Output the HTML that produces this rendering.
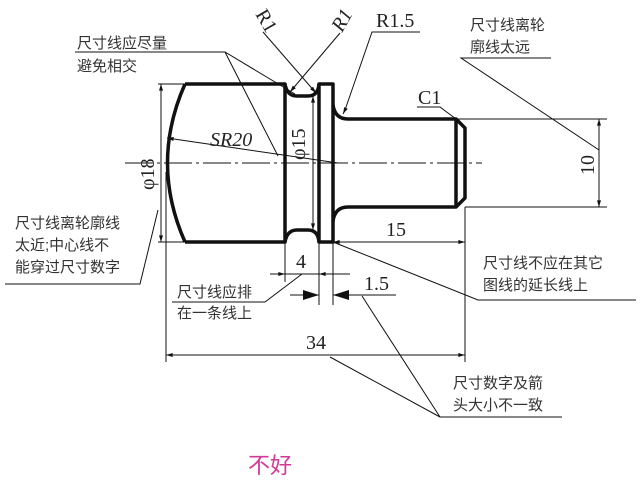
<!DOCTYPE html>
<html><head><meta charset="utf-8"><style>
html,body{margin:0;padding:0;background:#fff;}
svg{display:block;}
text{font-family:"Liberation Serif","Noto Serif CJK SC",serif;fill:#222;}
.cn{font-family:"Liberation Sans","Noto Sans CJK SC",sans-serif;font-size:15px;fill:#333;}
</style></head><body>
<svg width="642" height="489" viewBox="0 0 642 489" xmlns="http://www.w3.org/2000/svg">
<defs>
<marker id="a" viewBox="0 0 10 6" refX="10" refY="3" markerWidth="10" markerHeight="4" markerUnits="userSpaceOnUse" orient="auto"><path d="M0,0 L10,3 L0,6z" fill="#111"/></marker>
<marker id="b" viewBox="0 0 16 10" refX="16" refY="5" markerWidth="16" markerHeight="10" markerUnits="userSpaceOnUse" orient="auto"><path d="M0,0 L16,5 L0,10z" fill="#111"/></marker>
</defs>
<g fill="none" stroke="#111" stroke-width="3.5" stroke-linejoin="round">
<path d="M185,84 L285,84 L285,242 L185,242"/>
<path d="M185,84 Q150,163 185,242"/>
<path d="M285,84 Q287,96 297,96 L308,96 Q318,96 319,84"/>
<path d="M285,242 Q287,230 297,230 L308,230 Q318,230 319,242"/>
<rect x="319" y="84" width="14" height="158"/>
<path d="M333,105 Q335,119 348,119 L456,119 L465,128 L465,198 L456,207 L348,207 Q335,207 333,221"/>
<line x1="456" y1="119" x2="456" y2="207"/>
</g>
<g fill="none" stroke="#111" stroke-width="1">
<line x1="125" y1="163" x2="482" y2="163" stroke-dasharray="28,4,3,4"/>
<line x1="158" y1="84" x2="185" y2="84"/><line x1="158" y1="242" x2="185" y2="242"/>
<line x1="161" y1="120" x2="161" y2="84" marker-end="url(#a)"/>
<line x1="161" y1="205" x2="161" y2="242" marker-end="url(#a)"/>
<line x1="161" y1="120" x2="161" y2="205"/>
<line x1="313" y1="163" x2="313" y2="96" marker-end="url(#a)"/>
<line x1="313" y1="163" x2="313" y2="230" marker-end="url(#a)"/>
<line x1="338" y1="163" x2="167" y2="138" marker-end="url(#a)"/>
<line x1="400" y1="242" x2="333" y2="242" marker-end="url(#a)"/>
<line x1="400" y1="242" x2="465" y2="242" marker-end="url(#a)"/>
<line x1="465" y1="207" x2="465" y2="362"/>
<line x1="457" y1="119" x2="607" y2="119"/><line x1="465" y1="207" x2="607" y2="207"/>
<line x1="599" y1="163" x2="599" y2="119" marker-end="url(#a)"/>
<line x1="599" y1="163" x2="599" y2="207" marker-end="url(#a)"/>
<line x1="285" y1="242" x2="285" y2="282"/>
<line x1="319" y1="242" x2="319" y2="305"/><line x1="333" y1="242" x2="333" y2="305"/>
<line x1="270" y1="274" x2="285" y2="274" marker-end="url(#a)"/>
<line x1="350" y1="274" x2="319" y2="274" marker-end="url(#a)"/>
<line x1="285" y1="274" x2="319" y2="274"/>
<line x1="290" y1="295" x2="319" y2="295" marker-end="url(#b)"/>
<line x1="396" y1="295" x2="333" y2="295" marker-end="url(#b)"/>
<line x1="166" y1="172" x2="166" y2="362"/>
<line x1="316" y1="355" x2="166" y2="355" marker-end="url(#a)"/>
<line x1="316" y1="355" x2="465" y2="355" marker-end="url(#a)"/>
<polyline points="75,52 225,52 295,94"/>
<line x1="225" y1="52" x2="278" y2="156"/>
<line x1="263" y1="32" x2="316" y2="93" marker-end="url(#a)"/>
<line x1="340" y1="33" x2="290" y2="92" marker-end="url(#a)"/>
<polyline points="420,32 372,32 345,110"/>
<line x1="345" y1="110" x2="343" y2="114" marker-end="url(#a)"/>
<polyline points="417,107 440,107 456,119"/>
<polyline points="551,58 461,58 599,150"/>
<polyline points="5,284 140,284 158,210"/>
<polyline points="636,300 478,300 333,242"/>
<polyline points="172,302 265,302 302,274"/>
<polyline points="562,417 440,417 362,296"/>
<line x1="440" y1="417" x2="330" y2="357"/>
</g>
<g font-size="20">
<text x="255" y="14" transform="rotate(60 255 14)">R1</text>
<text x="342" y="33" transform="rotate(-60 342 33)" font-style="italic">R1</text>
<text x="376" y="27">R1.5</text>
<text x="418" y="104">C1</text>
<text x="210" y="146" font-style="italic">SR20</text>
<text x="0" y="0" transform="translate(305,160) rotate(-90)">φ15</text>
<text x="0" y="0" transform="translate(154,190) rotate(-90)">φ18</text>
<text x="0" y="0" transform="translate(594,175) rotate(-90)">10</text>
<text x="386" y="236">15</text>
<text x="296" y="268">4</text>
<text x="364" y="290">1.5</text>
<text x="306" y="349">34</text>
</g>
<g>
<text class="cn" x="77" y="48">尺寸线应尽量</text>
<text class="cn" x="77" y="71">避免相交</text>
<text class="cn" x="470" y="30">尺寸线离轮</text>
<text class="cn" x="470" y="52">廓线太远</text>
<text class="cn" x="15" y="228">尺寸线离轮廓线</text>
<text class="cn" x="15" y="250">太近;中心线不</text>
<text class="cn" x="15" y="272">能穿过尺寸数字</text>
<text class="cn" x="483" y="268">尺寸线不应在其它</text>
<text class="cn" x="483" y="290">图线的延长线上</text>
<text class="cn" x="177" y="297">尺寸线应排</text>
<text class="cn" x="177" y="318">在一条线上</text>
<text class="cn" x="453" y="388">尺寸数字及箭</text>
<text class="cn" x="453" y="410">头大小不一致</text>
</g>
<text x="248" y="473" style="font-family:'Liberation Sans','Noto Sans CJK SC',sans-serif;font-size:22px;fill:#d23a9a;">不好</text>
</svg>
</body></html>
